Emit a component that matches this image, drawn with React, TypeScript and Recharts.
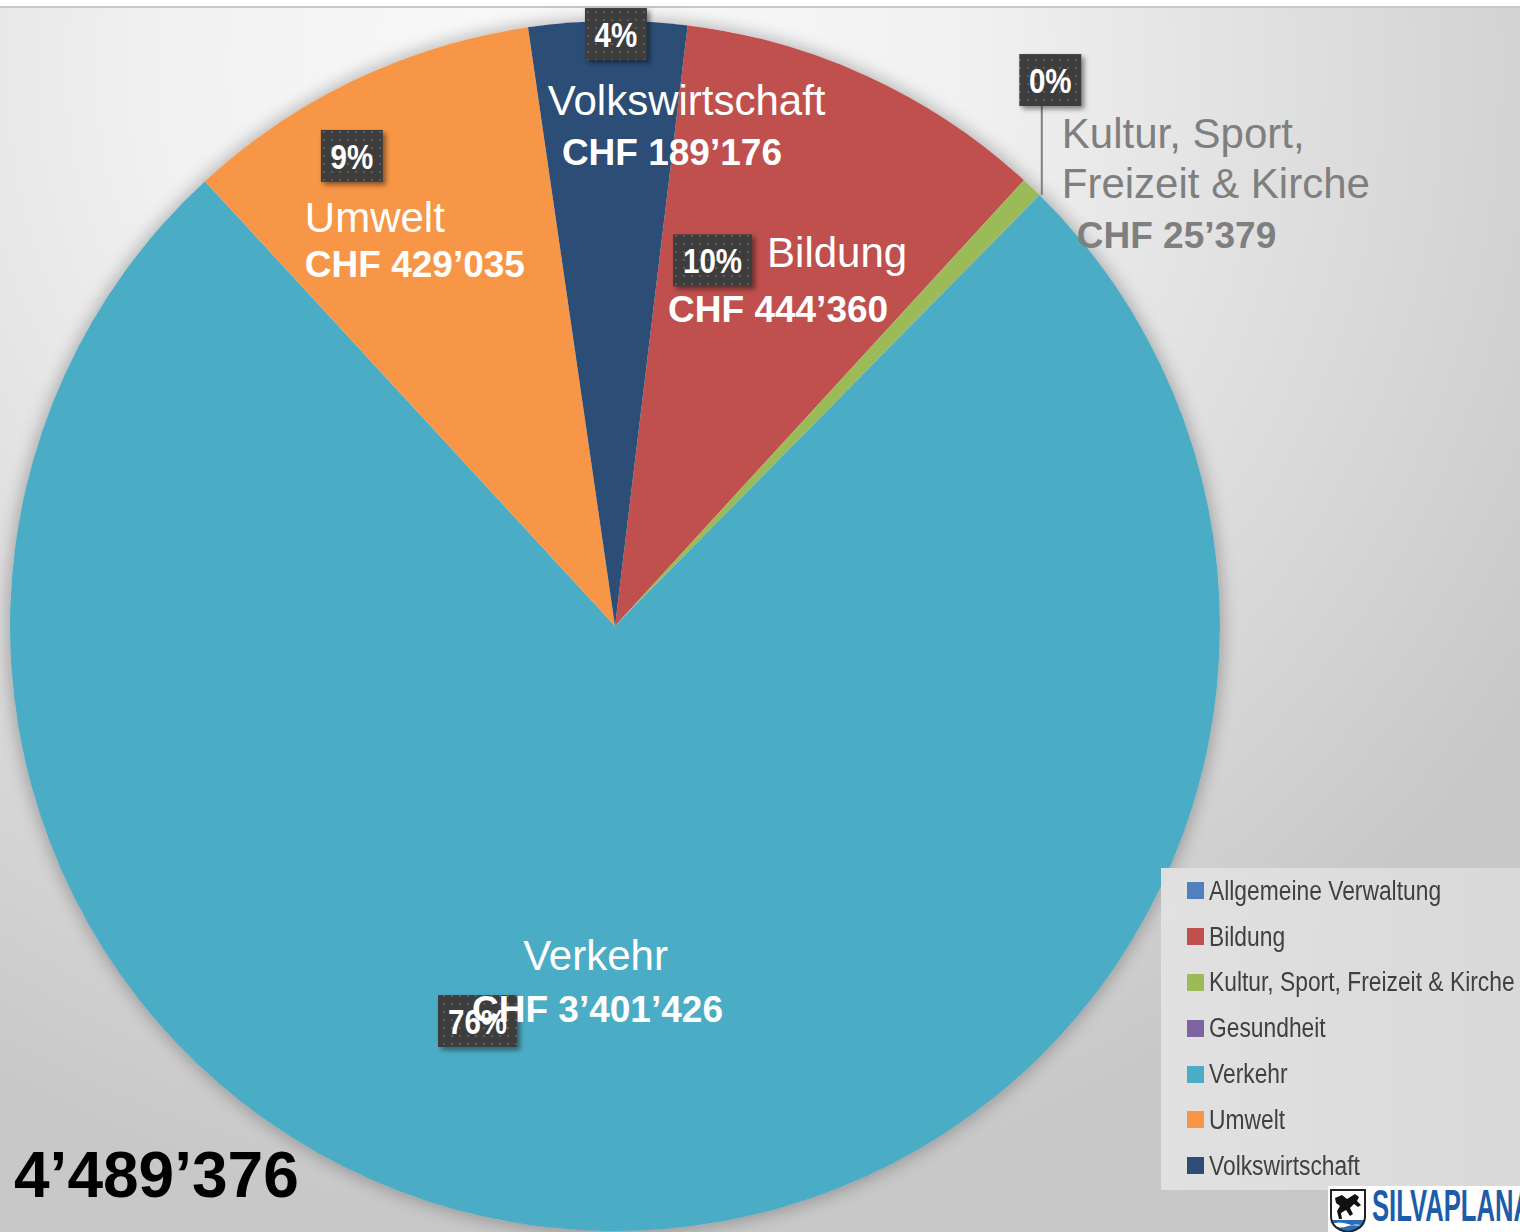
import React from 'react';
import { PieChart, Pie, Cell, Legend } from 'recharts';

// Kategorien der Investitionsrechnung (Reihenfolge wie in der Legende)
const categories = [
  'Allgemeine Verwaltung',
  'Bildung',
  'Kultur, Sport, Freizeit & Kirche',
  'Gesundheit',
  'Verkehr',
  'Umwelt',
  'Volkswirtschaft',
];

const amounts = [0, 444360, 25379, 0, 3401426, 429035, 189176];

// Prozent-Beschriftungen wie im Original
const percentLabels = ['', '10%', '0%', '', '76%', '9%', '4%'];

const colors = ['#4F81BD', '#C0504D', '#9BBB59', '#8064A2', '#4BACC6', '#F79646', '#2C4D75'];

const totalLabel = '4\u2019489\u2019376';

const pieData = categories.map((name, i) => ({ name, value: amounts[i] }));

const W = 1520;
const H = 1232;
const CX = 615;
const CY = 626;
const R = 605;
const START = 83.1;
const RADIAN = Math.PI / 180;

const SANS = '"Liberation Sans", Arial, Helvetica, sans-serif';
// kein Narrow-Font installiert: Liberation Sans horizontal gestaucht
const NARROW_SCALE = 0.82;

const fmtCHF = (v: number) =>
  'CHF ' + String(v).replace(/\B(?=(\d{3})+(?!\d))/g, '\u2019');

// Platzierung der Beschriftungen relativ zum Ankerpunkt (70% Radius, Mittelwinkel)
type TextPos = { x: number; y: number; anchor: 'start' | 'middle' };
type Layout = {
  box: [number, number];
  name: TextPos;
  lines?: string[];
  value: TextPos;
  valueSize: number;
  color: string;
  leader?: [number, number, number, number];
};

const labelLayout: Record<string, Layout> = {
  Bildung: {
    box: [-79.5, 19],
    name: { x: -25, y: 26, anchor: 'start' },
    value: { x: -124, y: 81, anchor: 'start' },
    valueSize: 37,
    color: '#ffffff',
  },
  'Kultur, Sport, Freizeit & Kirche': {
    box: [143.5, -239],
    name: { x: 155, y: -171, anchor: 'start' },
    lines: ['Kultur, Sport,', 'Freizeit & Kirche'],
    value: { x: 170, y: -71, anchor: 'start' },
    valueSize: 37,
    color: '#7f7f7f',
    leader: [135, -213, 135, -124],
  },
  Verkehr: {
    box: [-130.5, -28.4],
    name: { x: -12.5, y: -79.4, anchor: 'middle' },
    value: { x: -10.5, y: -27.4, anchor: 'middle' },
    valueSize: 37,
    color: '#ffffff',
  },
  Umwelt: {
    box: [-81, -87.7],
    name: { x: -128, y: -11.7, anchor: 'start' },
    value: { x: -128, y: 33.3, anchor: 'start' },
    valueSize: 37,
    color: '#ffffff',
  },
  Volkswirtschaft: {
    box: [6, -168.5],
    name: { x: 76.7, y: -87.5, anchor: 'middle' },
    value: { x: 62, y: -37.5, anchor: 'middle' },
    valueSize: 37,
    color: '#ffffff',
  },
};

const renderLabel = (props: any) => {
  const { cx, cy, midAngle, outerRadius, index, value } = props;
  if (!value) return null;
  const name = categories[index];
  const lay = labelLayout[name];
  if (!lay) return null;
  const ax = cx + outerRadius * 0.7 * Math.cos(-midAngle * RADIAN);
  const ay = cy + outerRadius * 0.7 * Math.sin(-midAngle * RADIAN);
  const pct = percentLabels[index];
  const bw = pct.length > 2 ? 79 : 62;
  const bh = 52;
  const bx = ax + lay.box[0];
  const by = ay + lay.box[1];
  const lines = lay.lines || [name];

  return (
    <g key={`lbl-${index}`}>
      {lay.leader && (
        <line
          x1={ax + lay.leader[0]}
          y1={ay + lay.leader[1]}
          x2={ax + lay.leader[2]}
          y2={ay + lay.leader[3]}
          stroke="#7f7f7f"
          strokeWidth={2}
        />
      )}
      <rect
        x={bx - bw / 2}
        y={by - bh / 2}
        width={bw}
        height={bh}
        fill="url(#dotPattern)"
        filter="url(#boxShadow)"
      />
      <text
        x={0}
        y={0}
        transform={`translate(${bx},${by + 13}) scale(${NARROW_SCALE},1)`}
        textAnchor="middle"
        fill="#ffffff"
        fontFamily={SANS}
        fontWeight="bold"
        fontSize={36}
      >
        {pct}
      </text>
      {lines.map((ln, i) => (
        <text
          key={i}
          x={ax + lay.name.x}
          y={ay + lay.name.y + i * 50}
          textAnchor={lay.name.anchor}
          fill={lay.color}
          fontFamily={SANS}
          fontSize={42}
        >
          {ln}
        </text>
      ))}
      <text
        x={ax + lay.value.x}
        y={ay + lay.value.y}
        textAnchor={lay.value.anchor}
        fill={lay.color}
        fontFamily={SANS}
        fontWeight="bold"
        fontSize={lay.valueSize}
      >
        {fmtCHF(value)}
      </text>
    </g>
  );
};

const renderLegend = () => (
  <div
    style={{
      width: 359,
      height: 322,
      background: 'linear-gradient(90deg, rgba(226,226,226,0.95), rgba(218,218,218,0.95))',
      boxSizing: 'border-box',
    }}
  >
    {categories.map((c, i) => (
      <div
        key={c}
        style={{ display: 'flex', alignItems: 'center', height: 45.8, paddingLeft: 26 }}
      >
        <span style={{ width: 17, height: 17, background: colors[i], marginRight: 5, flex: 'none' }} />
        <span
          style={{
            display: 'inline-block',
            fontFamily: SANS,
            fontSize: 27,
            color: '#404040',
            whiteSpace: 'nowrap',
            lineHeight: '30px',
            transform: 'scaleX(0.845)',
            transformOrigin: 'left center',
          }}
        >
          {c}
        </span>
      </div>
    ))}
  </div>
);

const Logo = () => (
  <div
    style={{
      position: 'absolute',
      left: 1328,
      top: 1186,
      width: W - 1328,
      height: H - 1186,
      background: '#ffffff',
      overflow: 'hidden',
    }}
  >
    <svg width={W - 1328} height={H - 1186}>
      <defs>
        <clipPath id="shieldClip">
          <path d="M3,4 H37 V30 Q37,43 20,46 Q3,43 3,30 Z" />
        </clipPath>
      </defs>
      <g clipPath="url(#shieldClip)">
        <rect x={0} y={0} width={40} height={46} fill="#ffffff" />
        <rect x={0} y={34} width={40} height={12} fill="#2a6db5" />
        <path d="M3,38 Q11,35 20,38 T37,38 V40 Q28,37 20,40 T3,40 Z" fill="#ffffff" />
        <path
          d="M7,12 L14,9 L19,13 L27,8 L31,11 L29,15 L33,19 L30,21 L26,18 L22,22 L25,28 L22,30 L18,24 L13,27 L14,33 L11,33 L9,25 L12,20 L8,17 Z"
          fill="#111111"
        />
      </g>
      <path d="M3,4 H37 V30 Q37,43 20,46 Q3,43 3,30 Z" fill="none" stroke="#222" strokeWidth={2} />
      <text
        x={44}
        y={35}
        fill="#1d5ca8"
        fontFamily={SANS}
        fontWeight="bold"
        fontSize={45}
        textLength={160}
        lengthAdjust="spacingAndGlyphs"
      >
        SILVAPLANA
      </text>
    </svg>
  </div>
);

const App = () => {
  return (
    <div
      style={{
        position: 'absolute',
        left: 0,
        top: 0,
        width: W,
        height: H,
        overflow: 'hidden',
        background:
          'radial-gradient(ellipse 1150px 1150px at 560px 70px, #fafafa 0%, #f1f1f1 35%, #dadada 72%, #c8c8c8 100%)',
      }}
    >
      <div
        style={{
          position: 'absolute',
          left: 0,
          top: 0,
          width: W,
          height: 6,
          background: '#ffffff',
          borderBottom: '2px solid #c8c8c8',
        }}
      />
      <svg width={0} height={0} style={{ position: 'absolute' }}>
        <defs>
          <pattern id="dotPattern" width={8} height={8} patternUnits="userSpaceOnUse">
            <rect width={8} height={8} fill="#3e3e3e" />
            <rect x={3} y={3} width={2} height={2} fill="#5c5c5c" />
          </pattern>
          <filter id="boxShadow" x="-20%" y="-20%" width="150%" height="150%">
            <feDropShadow dx={3} dy={3} stdDeviation={2.5} floodColor="#000" floodOpacity={0.45} />
          </filter>
        </defs>
      </svg>
      <div
        style={{
          position: 'absolute',
          left: CX - R,
          top: CY - R,
          width: 2 * R,
          height: 2 * R,
          borderRadius: '50%',
          boxShadow: '0 0 16px 3px rgba(0,0,0,0.25)',
        }}
      />
      <div style={{ position: 'absolute', left: 0, top: 0 }}>
        <PieChart width={W} height={H} margin={{ top: 0, right: 0, bottom: 0, left: 0 }}>
          <Pie
            data={pieData}
            dataKey="value"
            nameKey="name"
            cx={CX}
            cy={CY}
            outerRadius={R}
            startAngle={START}
            endAngle={START - 360}
            stroke="none"
            label={renderLabel}
            labelLine={false}
            isAnimationActive={false}
          >
            {pieData.map((d, i) => (
              <Cell key={d.name} fill={colors[i]} stroke="none" />
            ))}
          </Pie>
          <Legend
            content={renderLegend}
            wrapperStyle={{ position: 'absolute', left: 1161, top: 868, width: 359, height: 322 }}
          />
        </PieChart>
      </div>
      <div
        style={{
          position: 'absolute',
          left: 14,
          top: 1139,
          fontFamily: SANS,
          fontWeight: 'bold',
          fontSize: 64,
          lineHeight: '72px',
          color: '#000',
        }}
      >
        {totalLabel}
      </div>
      <Logo />
    </div>
  );
};

export default App;
